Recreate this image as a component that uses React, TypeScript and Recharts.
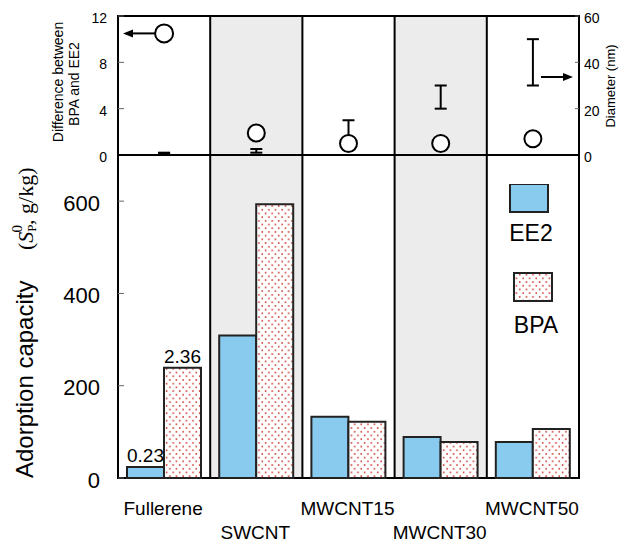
import React from "react";
import {
  ComposedChart,
  Bar,
  Scatter,
  ErrorBar,
  XAxis,
  YAxis,
  ReferenceArea,
  LabelList,
  Legend,
} from "recharts";

const categories = ["Fullerene", "SWCNT", "MWCNT15", "MWCNT30", "MWCNT50"];
const ee2Capacity = [24, 309, 133, 89, 78];
const bpaCapacity = [239, 593, 122, 78, 106];
const ee2Labels = ["0.23", "", "", "", ""];
const bpaLabels = ["2.36", "", "", "", ""];
const bpaMinusEe2 = [10.5, 1.9, 1.0, 1.0, 1.4];
const diameterLow = [0.7, 1.0, 5, 20, 30];
const diameterHigh = [1.0, 2.6, 15, 30, 50];
const shaded = ["SWCNT", "MWCNT30"];
const legendOrder = ["EE2", "BPA"];

const capacityTicks = [0, 200, 400, 600];
const diffTicks = [0, 4, 8, 12];
const diameterTicks = [0, 20, 40, 60];

const bottomData = categories.map((name, i) => ({
  name,
  ee2: ee2Capacity[i],
  bpa: bpaCapacity[i],
  ee2Label: ee2Labels[i],
  bpaLabel: bpaLabels[i],
}));

const topData = categories.map((name, i) => ({
  name,
  diff: bpaMinusEe2[i],
  diam: (diameterLow[i] + diameterHigh[i]) / 2,
  diamErr: (diameterHigh[i] - diameterLow[i]) / 2,
}));

const SANS = "'Liberation Sans', Arial, sans-serif";
const SERIF = "'Liberation Serif', 'Times New Roman', serif";
const EE2_FILL = "#89cbee";

// left axis tick: label outside, small tick mark inside the frame
function LeftTick(props: any) {
  const { x, y, payload, gap, size, shift = 0 } = props;
  const ax = x + gap;
  return (
    <g>
      <line x1={ax} x2={ax + 6} y1={y} y2={y} stroke="#666" strokeWidth={1} />
      <text x={x} y={y + shift} textAnchor="end" dominantBaseline="central" fontSize={size} fontFamily={SANS} fill="#000">
        {payload.value}
      </text>
    </g>
  );
}

function RightTick(props: any) {
  const { x, y, payload, gap, size } = props;
  const ax = x - gap;
  return (
    <g>
      <line x1={ax - 4} x2={ax} y1={y} y2={y} stroke="#666" strokeWidth={1} />
      <text x={x} y={y + 2} textAnchor="start" dominantBaseline="central" fontSize={size} fontFamily={SANS} fill="#000">
        {payload.value}
      </text>
    </g>
  );
}

// staggered category labels
function CategoryTick(props: any) {
  const { x, y, payload, index } = props;
  return (
    <text
      x={x - 1}
      y={y + (index % 2 === 0 ? 30 : 54)}
      textAnchor="middle"
      dominantBaseline="central"
      fontSize={19}
      fontFamily={SANS}
      fill="#000"
    >
      {payload.value}
    </text>
  );
}

function TopLabel(props: any) {
  const { x, y, width, value } = props;
  if (!value) return null;
  return (
    <text x={x + width / 2} y={y - 5} textAnchor="middle" fontSize={19} fontFamily={SANS} fill="#000">
      {value}
    </text>
  );
}

function LegendBoxes(props: any) {
  const items = props.payload || [];
  const pos = [
    { bx: 5, by: 0, tx: 26, ty: 57 },
    { bx: 9, by: 89, tx: 31, ty: 149 },
  ];
  return (
    <svg width={70} height={160}>
      {items.map((it: any) => {
        const p = pos[Math.max(0, legendOrder.indexOf(it.value))];
        return (
          <g key={it.value}>
            <rect x={p.bx} y={p.by} width={38} height={28} fill={it.color} stroke="#222" strokeWidth={2} />
            <text x={p.tx} y={p.ty} textAnchor="middle" fontSize={23} fontFamily={SANS} fill="#000">
              {it.value}
            </text>
          </g>
        );
      })}
    </svg>
  );
}

function Circle(props: any) {
  const { cx, cy, index } = props;
  return <circle cx={cx} cy={cy} r={index === 0 ? 9 : 8.5} fill="#fff" stroke="#000" strokeWidth={2} />;
}

export default function App() {
  return (
    <div style={{ position: "absolute", left: 0, top: 0, width: 619, height: 542, background: "#fff" }}>
      <div style={{ position: "absolute", left: 0, top: 0 }}>
        <ComposedChart width={619} height={165} data={topData} margin={{ top: 16, right: 0, bottom: 10, left: 0 }}>
          <XAxis dataKey="name" hide scale="band" />
          <YAxis
            yAxisId="left"
            width={118}
            domain={[0, 12]}
            ticks={diffTicks}
            axisLine={false}
            tickLine={false}
            tickSize={0}
            tickMargin={11}
            tick={(p: any) => <LeftTick {...p} gap={11} size={14} shift={2} />}
          />
          <YAxis
            yAxisId="right"
            orientation="right"
            width={40}
            domain={[0, 60]}
            ticks={diameterTicks}
            axisLine={false}
            tickLine={false}
            tickSize={0}
            tickMargin={5}
            tick={(p: any) => <RightTick {...p} gap={5} size={14} />}
          />
          {shaded.map((c) => (
            <ReferenceArea
              key={c}
              yAxisId="left"
              x1={c}
              x2={c}
              y1={0}
              y2={12}
              fill="#ececec"
              fillOpacity={1}
              stroke="#000"
              strokeWidth={2}
            />
          ))}
          <ReferenceArea
            yAxisId="left"
            x1={categories[0]}
            x2={categories[categories.length - 1]}
            y1={0}
            y2={12}
            fill="none"
            stroke="#000"
            strokeWidth={2}
          />
          <Scatter yAxisId="right" dataKey="diam" shape={() => <g />} isAnimationActive={false}>
            <ErrorBar dataKey="diamErr" direction="y" width={6} stroke="#000" strokeWidth={2} isAnimationActive={false} />
          </Scatter>
          <Scatter yAxisId="left" dataKey="diff" shape={Circle} isAnimationActive={false} />
          <g>
            <line x1={155} x2={131} y1={33.4} y2={33.4} stroke="#000" strokeWidth={2} />
            <polygon points="123,33.4 133,29.4 133,37.4" fill="#000" />
            <line x1={541} x2={565} y1={77} y2={77} stroke="#000" strokeWidth={2} />
            <polygon points="573,77 563,73 563,81" fill="#000" />
            <text transform="translate(63,82) rotate(-90)" textAnchor="middle" fontSize={14} fontFamily={SANS}>
              Difference between
            </text>
            <text transform="translate(79,84) rotate(-90)" textAnchor="middle" fontSize={14} fontFamily={SANS}>
              BPA and EE2
            </text>
            <text transform="translate(615,86) rotate(-90)" textAnchor="middle" fontSize={13} fontFamily={SANS}>
              Diameter (nm)
            </text>
          </g>
        </ComposedChart>
      </div>

      <div style={{ position: "absolute", left: 0, top: 145 }}>
        <ComposedChart
          width={619}
          height={397}
          data={bottomData}
          margin={{ top: 10, right: 40, bottom: 0, left: 0 }}
          barSize={37}
          barGap={0}
        >
          <defs>
            <pattern id="bpaDots" width={6.6} height={7.4} patternUnits="userSpaceOnUse">
              <rect width={6.6} height={7.4} fill="#fff" />
              <circle cx={1.6} cy={1.8} r={0.9} fill="#cc3a30" />
              <circle cx={4.9} cy={5.5} r={0.9} fill="#cc3a30" />
            </pattern>
          </defs>
          <XAxis
            dataKey="name"
            height={64}
            interval={0}
            axisLine={false}
            tickLine={false}
            tickSize={0}
            tickMargin={0}
            tick={(p: any) => <CategoryTick {...p} />}
          />
          <YAxis
            width={118}
            domain={[0, 700]}
            ticks={capacityTicks}
            axisLine={false}
            tickLine={false}
            tickSize={0}
            tickMargin={18}
            tick={(p: any) => <LeftTick {...p} gap={18} size={22} shift={2} />}
          />
          {shaded.map((c) => (
            <ReferenceArea
              key={c}
              x1={c}
              x2={c}
              y1={0}
              y2={700}
              fill="#ececec"
              fillOpacity={1}
              stroke="#000"
              strokeWidth={2}
            />
          ))}
          <ReferenceArea
            x1={categories[0]}
            x2={categories[categories.length - 1]}
            y1={0}
            y2={700}
            fill="none"
            stroke="#000"
            strokeWidth={2}
          />
          <Bar dataKey="ee2" name="EE2" fill={EE2_FILL} stroke="#222" strokeWidth={2} isAnimationActive={false}>
            <LabelList dataKey="ee2Label" content={TopLabel} />
          </Bar>
          <Bar dataKey="bpa" name="BPA" fill="url(#bpaDots)" stroke="#222" strokeWidth={2} isAnimationActive={false}>
            <LabelList dataKey="bpaLabel" content={TopLabel} />
          </Bar>
          <Legend
            layout="vertical"
            align="center"
            verticalAlign="middle"
            wrapperStyle={{ top: 39, left: 505, width: 70, height: 160 }}
            content={LegendBoxes}
          />
          <g>
            <text transform="translate(33,333) rotate(-90)" textAnchor="start" fontSize={24} fontFamily={SANS}>
              Adorption capacity
            </text>
            <text transform="translate(33,105) rotate(-90)" textAnchor="start" fontSize={22} fontFamily={SERIF}>
              (<tspan fontStyle="italic">S</tspan>
              <tspan fontSize={13} dy={3}>P</tspan>
              <tspan fontSize={15} dx={-8} dy={-14}>0</tspan>
              <tspan dy={11}>, g/kg)</tspan>
            </text>
          </g>
        </ComposedChart>
      </div>
    </div>
  );
}
